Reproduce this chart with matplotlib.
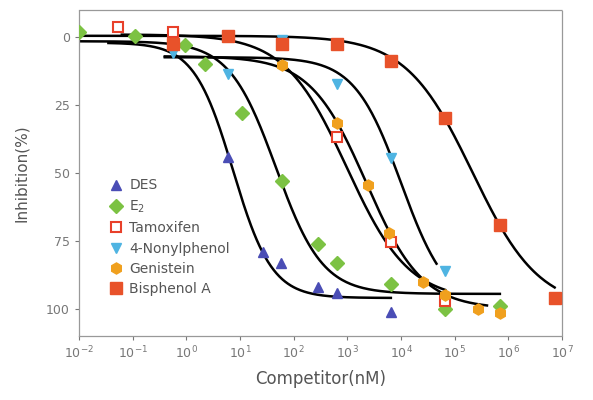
import matplotlib
matplotlib.use("Agg")
import matplotlib.pyplot as plt
import numpy as np

# data (concentration in nM, inhibition in %)
des_x = [6.0, 27, 57, 280, 630, 6500]
des_y = [44, 79, 83, 92, 94, 101]

e2_x = [0.01, 0.11, 0.94, 2.2, 11, 61, 280, 630, 6500, 66000, 690000]
e2_y = [-2, -0.5, 3, 10, 28, 53, 76, 83, 91, 100, 99]

tam_x = [0.053, 0.56, 630, 6500, 66000]
tam_y = [-3.7, -1.8, 36.7, 75.5, 97]

nonyl_x = [0.56, 6.0, 61, 630, 6500, 66000]
nonyl_y = [6, 13.7, 1, 17.4, 44.4, 86]

gen_x = [61, 630, 2400, 6000, 26000, 66000, 270000, 690000]
gen_y = [10.4, 31.5, 54.4, 72, 90, 95, 100, 101.5]

bpa_x = [0.56, 6.0, 61, 630, 6500, 66000, 690000, 7200000]
bpa_y = [2.6, -0.4, 2.6, 2.6, 8.9, 29.6, 69, 96]

# fitted curves: top, bottom, log IC50, hill slope, log x start, log x end
des_fit = [2, 96, 0.87, 1.2, -1.45, 3.81]
e2_fit = [1.5, 94.5, 1.67, 1.0, -2.0, 5.84]
tam_fit = [-1, 97, 2.99, 0.75, -1.2, 4.82]
nonyl_fit = [7.4, 100, 4.0, 1.0, -0.4, 4.66]
gen_fit = [7, 100, 3.35, 0.83, -0.4, 5.6]
bpa_fit = [-0.5, 100, 5.33, 0.7, -2.0, 6.86]


def logistic(p):
    top, bottom, logic50, hill, x0, x1 = p
    lx = np.linspace(x0, x1, 300)
    y = top + (bottom - top) / (1 + 10 ** ((logic50 - lx) * hill))
    return 10 ** lx, y


fig = plt.figure(figsize=(5.93, 4.0), dpi=100)
ax = fig.add_axes([0.133, 0.16, 0.815, 0.815])

for p in [des_fit, e2_fit, tam_fit, nonyl_fit, gen_fit, bpa_fit]:
    cx, cy = logistic(p)
    ax.plot(cx, cy, color='black', lw=1.8, zorder=2)

ax.plot(des_x, des_y, ls='none', marker='^', ms=7, color='#4a4db5', label='DES', zorder=3)
ax.plot(e2_x, e2_y, ls='none', marker='D', ms=7, color='#7cc243', label='E$_2$', zorder=3)
ax.plot(tam_x, tam_y, ls='none', marker='s', ms=7.5, mfc='white', mec='#e8402a', mew=1.5,
        label='Tamoxifen', zorder=3)
ax.plot(nonyl_x, nonyl_y, ls='none', marker='v', ms=7, color='#4fb4e2', label='4-Nonylphenol', zorder=3)
ax.plot(gen_x, gen_y, ls='none', marker='h', ms=8, color='#f0a01e', label='Genistein', zorder=3)
ax.plot(bpa_x, bpa_y, ls='none', marker='s', ms=8, color='#e8522a', label='Bisphenol A', zorder=3)

ax.set_xscale('log')
ax.set_xlim(1e-2, 1e7)
ax.set_ylim(110, -10)
ax.set_xticks([10.0 ** k for k in range(-2, 8)])
ax.set_xticklabels(['$10^{%d}$' % k for k in range(-2, 8)])
ax.xaxis.set_minor_locator(matplotlib.ticker.NullLocator())
ax.set_yticks([0, 25, 50, 75, 100])

for s in ax.spines.values():
    s.set_linestyle((0, (2, 1)))
    s.set_color('#999999')
    s.set_linewidth(0.9)
ax.tick_params(colors='#777777', labelsize=9, length=3, width=0.8)

ax.set_xlabel('Competitor(nM)', fontsize=12, color='#555555', labelpad=6)
ax.set_ylabel('Inhibition(%)', fontsize=11, color='#555555', labelpad=12)

leg = ax.legend(loc='lower left', bbox_to_anchor=(0.03, 0.08), frameon=False, fontsize=10,
                handletextpad=0.4, labelspacing=0.45, handlelength=1.2, borderaxespad=0.6)
for t in leg.get_texts():
    t.set_color('#555555')

fig.savefig('out.png', dpi=100)
